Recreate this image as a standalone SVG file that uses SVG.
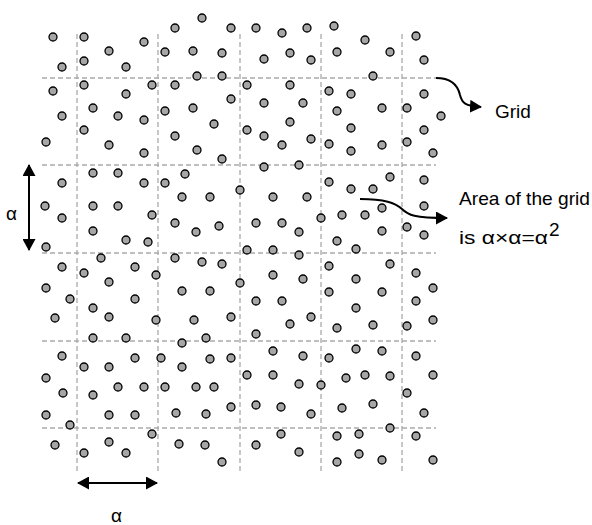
<svg xmlns="http://www.w3.org/2000/svg" width="592" height="525" viewBox="0 0 592 525">
<style>
.grid line{stroke:#aaaaaa;stroke-width:1.3;stroke-dasharray:5,3;fill:none}
.dots circle{fill:#a6a6a6;stroke:#000;stroke-width:1.3}
.conn{stroke:#000;stroke-width:2;fill:none}
text{font-family:"Liberation Sans",Arial,sans-serif;font-size:19px;fill:#000}
</style>
<defs>
<marker id="ah" markerWidth="13" markerHeight="13" refX="11" refY="6.5" orient="auto" markerUnits="userSpaceOnUse"><path d="M0,0 L12,6.5 L0,13 Z" fill="#000"/></marker>
<marker id="ah2" markerWidth="13" markerHeight="13" refX="11" refY="6.5" orient="auto-start-reverse" markerUnits="userSpaceOnUse"><path d="M0,0 L12,6.5 L0,13 Z" fill="#000"/></marker>
</defs>
<g id="grid" class="grid">
<line x1="42" y1="78" x2="436" y2="78"/>
<line x1="42" y1="165" x2="436" y2="165"/>
<line x1="42" y1="253" x2="436" y2="253"/>
<line x1="42" y1="341" x2="436" y2="341"/>
<line x1="42" y1="428" x2="436" y2="428"/>
<line x1="77" y1="34" x2="77" y2="472"/>
<line x1="158" y1="34" x2="158" y2="472"/>
<line x1="240" y1="34" x2="240" y2="472"/>
<line x1="321" y1="34" x2="321" y2="472"/>
<line x1="402" y1="34" x2="402" y2="472"/>
</g>
<g id="points" class="dots">
<circle cx="53" cy="37" r="4"/><circle cx="84" cy="37" r="4"/><circle cx="109" cy="51" r="4"/><circle cx="144" cy="42" r="4"/><circle cx="175" cy="28" r="4"/><circle cx="165" cy="52" r="4"/><circle cx="62" cy="67" r="4"/><circle cx="84" cy="61" r="4"/><circle cx="126" cy="67" r="4"/>
<circle cx="202" cy="18" r="4"/><circle cx="231" cy="28" r="4"/><circle cx="256" cy="28" r="4"/><circle cx="282" cy="33" r="4"/><circle cx="307" cy="28" r="4"/><circle cx="193" cy="51" r="4"/><circle cx="222" cy="53" r="4"/><circle cx="264" cy="59" r="4"/><circle cx="290" cy="53" r="4"/><circle cx="311" cy="60" r="4"/><circle cx="197" cy="76" r="4"/><circle cx="222" cy="76" r="4"/>
<circle cx="334" cy="26" r="4"/><circle cx="365" cy="40" r="4"/><circle cx="416" cy="36" r="4"/><circle cx="337" cy="52" r="4"/><circle cx="390" cy="52" r="4"/><circle cx="424" cy="60" r="4"/><circle cx="373" cy="76" r="4"/>
<circle cx="53" cy="91" r="4"/><circle cx="84" cy="85" r="4"/><circle cx="126" cy="94" r="4"/><circle cx="152" cy="85" r="4"/><circle cx="175" cy="85" r="4"/><circle cx="62" cy="116" r="4"/><circle cx="93" cy="108" r="4"/><circle cx="118" cy="116" r="4"/><circle cx="144" cy="120" r="4"/><circle cx="165" cy="111" r="4"/><circle cx="84" cy="130" r="4"/><circle cx="46" cy="142" r="4"/><circle cx="109" cy="145" r="4"/><circle cx="144" cy="153" r="4"/><circle cx="175" cy="136" r="4"/>
<circle cx="247" cy="85" r="4"/><circle cx="290" cy="85" r="4"/><circle cx="231" cy="99" r="4"/><circle cx="193" cy="108" r="4"/><circle cx="264" cy="103" r="4"/><circle cx="303" cy="103" r="4"/><circle cx="214" cy="124" r="4"/><circle cx="247" cy="130" r="4"/><circle cx="290" cy="122" r="4"/><circle cx="264" cy="136" r="4"/><circle cx="282" cy="145" r="4"/><circle cx="311" cy="139" r="4"/><circle cx="197" cy="150" r="4"/><circle cx="222" cy="159" r="4"/><circle cx="264" cy="167" r="4"/><circle cx="299" cy="165" r="4"/>
<circle cx="329" cy="91" r="4"/><circle cx="351" cy="94" r="4"/><circle cx="424" cy="94" r="4"/><circle cx="337" cy="111" r="4"/><circle cx="382" cy="108" r="4"/><circle cx="407" cy="108" r="4"/><circle cx="441" cy="116" r="4"/><circle cx="351" cy="128" r="4"/><circle cx="424" cy="130" r="4"/><circle cx="329" cy="144" r="4"/><circle cx="351" cy="151" r="4"/><circle cx="382" cy="145" r="4"/><circle cx="407" cy="142" r="4"/><circle cx="433" cy="153" r="4"/>
<circle cx="93" cy="173" r="4"/><circle cx="118" cy="173" r="4"/><circle cx="62" cy="183" r="4"/><circle cx="144" cy="183" r="4"/><circle cx="165" cy="183" r="4"/><circle cx="45" cy="206" r="4"/><circle cx="93" cy="206" r="4"/><circle cx="118" cy="206" r="4"/><circle cx="62" cy="218" r="4"/><circle cx="152" cy="215" r="4"/><circle cx="175" cy="223" r="4"/><circle cx="93" cy="231" r="4"/><circle cx="126" cy="240" r="4"/><circle cx="148" cy="242" r="4"/><circle cx="46" cy="247" r="4"/>
<circle cx="185" cy="174" r="4"/><circle cx="182" cy="197" r="4"/><circle cx="210" cy="197" r="4"/><circle cx="240" cy="190" r="4"/><circle cx="273" cy="197" r="4"/><circle cx="307" cy="197" r="4"/><circle cx="196" cy="232" r="4"/><circle cx="219" cy="226" r="4"/><circle cx="256" cy="223" r="4"/><circle cx="282" cy="223" r="4"/><circle cx="299" cy="232" r="4"/><circle cx="247" cy="250" r="4"/><circle cx="273" cy="250" r="4"/><circle cx="299" cy="255" r="4"/>
<circle cx="329" cy="182" r="4"/><circle cx="351" cy="189" r="4"/><circle cx="373" cy="189" r="4"/><circle cx="390" cy="177" r="4"/><circle cx="424" cy="180" r="4"/><circle cx="321" cy="218" r="4"/><circle cx="342" cy="215" r="4"/><circle cx="365" cy="215" r="4"/><circle cx="382" cy="208" r="4"/><circle cx="424" cy="206" r="4"/><circle cx="337" cy="241" r="4"/><circle cx="382" cy="231" r="4"/><circle cx="407" cy="227" r="4"/><circle cx="424" cy="235" r="4"/><circle cx="356" cy="249" r="4"/>
<circle cx="101" cy="258" r="4"/><circle cx="175" cy="258" r="4"/><circle cx="62" cy="267" r="4"/><circle cx="135" cy="267" r="4"/><circle cx="84" cy="273" r="4"/><circle cx="156" cy="275" r="4"/><circle cx="109" cy="282" r="4"/><circle cx="46" cy="288" r="4"/><circle cx="70" cy="299" r="4"/><circle cx="135" cy="299" r="4"/><circle cx="93" cy="308" r="4"/><circle cx="55" cy="318" r="4"/><circle cx="109" cy="317" r="4"/><circle cx="156" cy="320" r="4"/>
<circle cx="202" cy="262" r="4"/><circle cx="222" cy="264" r="4"/><circle cx="273" cy="275" r="4"/><circle cx="303" cy="279" r="4"/><circle cx="182" cy="291" r="4"/><circle cx="210" cy="291" r="4"/><circle cx="240" cy="283" r="4"/><circle cx="256" cy="301" r="4"/><circle cx="282" cy="301" r="4"/><circle cx="194" cy="320" r="4"/><circle cx="231" cy="317" r="4"/><circle cx="290" cy="324" r="4"/><circle cx="311" cy="317" r="4"/>
<circle cx="329" cy="266" r="4"/><circle cx="390" cy="264" r="4"/><circle cx="416" cy="273" r="4"/><circle cx="356" cy="279" r="4"/><circle cx="329" cy="292" r="4"/><circle cx="382" cy="292" r="4"/><circle cx="433" cy="288" r="4"/><circle cx="416" cy="301" r="4"/><circle cx="356" cy="308" r="4"/><circle cx="373" cy="325" r="4"/><circle cx="407" cy="326" r="4"/><circle cx="433" cy="320" r="4"/><circle cx="337" cy="328" r="4"/>
<circle cx="93" cy="338" r="4"/><circle cx="126" cy="338" r="4"/><circle cx="62" cy="356" r="4"/><circle cx="84" cy="367" r="4"/><circle cx="109" cy="367" r="4"/><circle cx="135" cy="358" r="4"/><circle cx="161" cy="358" r="4"/><circle cx="46" cy="378" r="4"/><circle cx="63" cy="393" r="4"/><circle cx="93" cy="395" r="4"/><circle cx="118" cy="387" r="4"/><circle cx="144" cy="387" r="4"/><circle cx="165" cy="387" r="4"/><circle cx="46" cy="415" r="4"/><circle cx="70" cy="425" r="4"/><circle cx="109" cy="415" r="4"/><circle cx="135" cy="415" r="4"/><circle cx="176" cy="413" r="4"/><circle cx="152" cy="434" r="4"/><circle cx="55" cy="445" r="4"/><circle cx="84" cy="453" r="4"/><circle cx="109" cy="442" r="4"/><circle cx="126" cy="453" r="4"/>
<circle cx="182" cy="343" r="4"/><circle cx="206" cy="338" r="4"/><circle cx="256" cy="334" r="4"/><circle cx="273" cy="351" r="4"/><circle cx="303" cy="356" r="4"/><circle cx="182" cy="367" r="4"/><circle cx="210" cy="359" r="4"/><circle cx="231" cy="358" r="4"/><circle cx="247" cy="375" r="4"/><circle cx="273" cy="375" r="4"/><circle cx="299" cy="384" r="4"/><circle cx="196" cy="387" r="4"/><circle cx="214" cy="387" r="4"/><circle cx="206" cy="414" r="4"/><circle cx="231" cy="407" r="4"/><circle cx="256" cy="405" r="4"/><circle cx="281" cy="407" r="4"/><circle cx="311" cy="414" r="4"/><circle cx="179" cy="444" r="4"/><circle cx="205" cy="445" r="4"/><circle cx="256" cy="445" r="4"/><circle cx="281" cy="434" r="4"/><circle cx="299" cy="452" r="4"/><circle cx="222" cy="462" r="4"/>
<circle cx="329" cy="358" r="4"/><circle cx="356" cy="349" r="4"/><circle cx="382" cy="351" r="4"/><circle cx="416" cy="356" r="4"/><circle cx="321" cy="385" r="4"/><circle cx="346" cy="378" r="4"/><circle cx="365" cy="375" r="4"/><circle cx="390" cy="376" r="4"/><circle cx="433" cy="375" r="4"/><circle cx="407" cy="393" r="4"/><circle cx="342" cy="408" r="4"/><circle cx="373" cy="404" r="4"/><circle cx="424" cy="413" r="4"/><circle cx="390" cy="428" r="4"/><circle cx="337" cy="436" r="4"/><circle cx="359" cy="434" r="4"/><circle cx="416" cy="436" r="4"/><circle cx="337" cy="462" r="4"/><circle cx="359" cy="454" r="4"/><circle cx="382" cy="460" r="4"/><circle cx="433" cy="460" r="4"/>
</g>
<g id="connectors">
<path class="conn" d="M436,78 C452,78 458,86 460,95 C462,103 465,106 481,107" marker-end="url(#ah)"/>
<path class="conn" d="M360,199 C385,199 395,203 402,209 C408,215 414,218 447,218" marker-end="url(#ah)"/>
<line class="conn" x1="29" y1="165" x2="29" y2="250" marker-start="url(#ah2)" marker-end="url(#ah2)"/>
<line class="conn" x1="78" y1="483" x2="157" y2="483" marker-start="url(#ah2)" marker-end="url(#ah2)"/>
</g>
<g id="label-grid"><text x="495" y="118" font-size="18">Grid</text></g>
<g id="label-area"><text x="459" y="205" textLength="131" lengthAdjust="spacingAndGlyphs">Area of the grid</text><text x="459" y="244" textLength="89" lengthAdjust="spacingAndGlyphs">is α×α=α</text><text x="549" y="236" font-size="13">2</text></g>
<g id="label-alpha-v"><text x="6" y="220">α</text></g>
<g id="label-alpha-h"><text x="111" y="522">α</text></g>
</svg>
